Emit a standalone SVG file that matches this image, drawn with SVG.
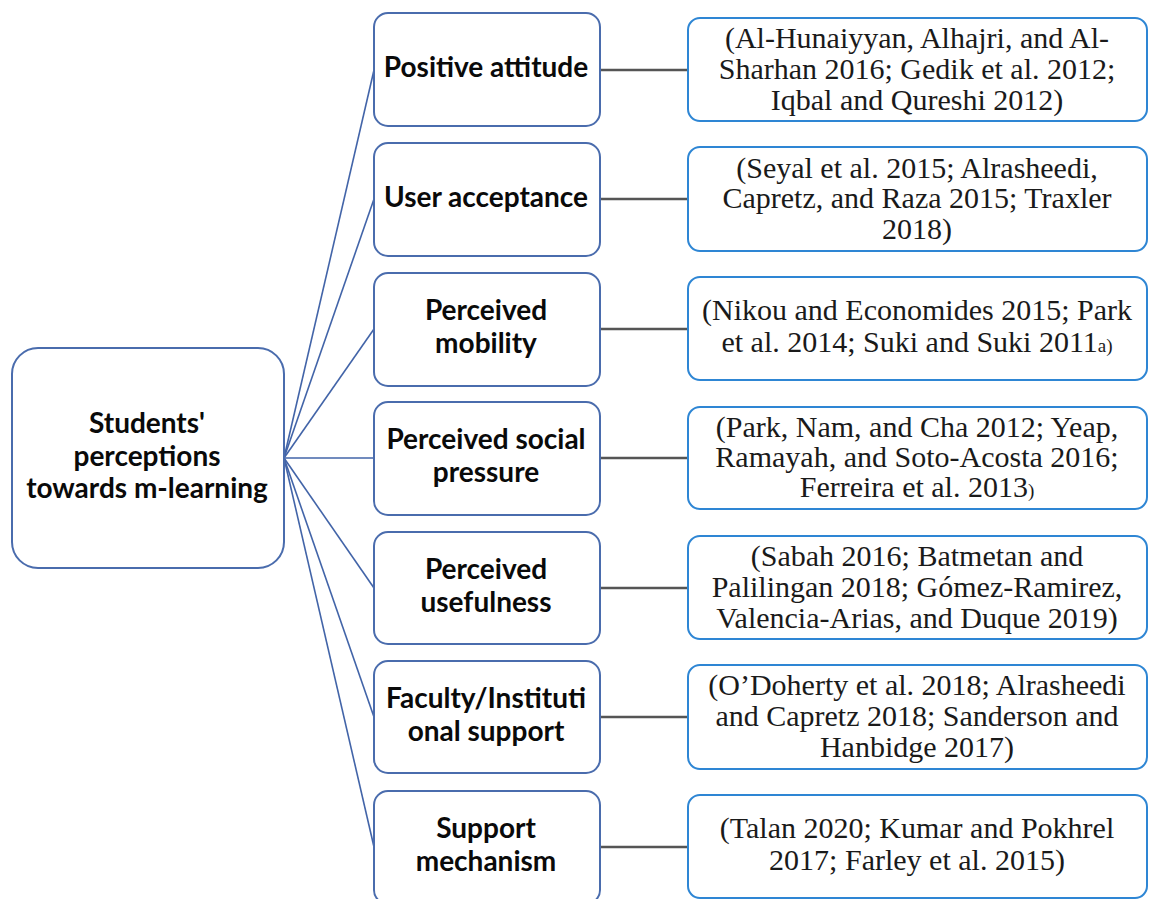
<svg xmlns="http://www.w3.org/2000/svg" width="1149" height="899" viewBox="0 0 1149 899">
  <style>
    .root { fill: #ffffff; stroke: #4a6cad; stroke-width: 2; }
    .factor { fill: #ffffff; stroke: #4a6cad; stroke-width: 2; }
    .refs { fill: #ffffff; stroke: #2e86d4; stroke-width: 2; }
    .fan { stroke: #4264a8; stroke-width: 1.6; fill: none; }
    .link { stroke: #555555; stroke-width: 2.5; fill: none; }
    .bold { font-family: Lato, "Open Sans", sans-serif; font-weight: 700; font-size: 28px; fill: #0a0a0a; text-anchor: middle; }
    .cite { font-family: "Liberation Serif", "Times New Roman", serif; font-size: 30px; fill: #1a1a1a; text-anchor: middle; }
    .small { font-size: 19px; }
  </style>

  <!-- connectors -->
  <g id="connectors">
    <line class="fan" x1="284" y1="458" x2="374" y2="70"/>
    <line class="fan" x1="284" y1="458" x2="374" y2="199"/>
    <line class="fan" x1="284" y1="458" x2="374" y2="329"/>
    <line class="fan" x1="284" y1="458" x2="374" y2="458"/>
    <line class="fan" x1="284" y1="458" x2="374" y2="588"/>
    <line class="fan" x1="284" y1="458" x2="374" y2="717"/>
    <line class="fan" x1="284" y1="458" x2="374" y2="847"/>
    <line class="link" x1="600" y1="70" x2="688" y2="70"/>
    <line class="link" x1="600" y1="199" x2="688" y2="199"/>
    <line class="link" x1="600" y1="329" x2="688" y2="329"/>
    <line class="link" x1="600" y1="458" x2="688" y2="458"/>
    <line class="link" x1="600" y1="588" x2="688" y2="588"/>
    <line class="link" x1="600" y1="717" x2="688" y2="717"/>
    <line class="link" x1="600" y1="847" x2="688" y2="847"/>
  </g>

  <!-- central node -->
  <g id="node-root">
    <rect class="root" x="12" y="348" width="272" height="220" rx="26"/>
    <text class="bold" x="147" y="433">Students'</text>
    <text class="bold" x="147" y="466">perceptions</text>
    <text class="bold" x="147" y="498">towards m-learning</text>
  </g>

  <!-- factor nodes -->
  <g id="node-positive-attitude">
    <rect class="factor" x="374" y="13" width="226" height="113" rx="14"/>
    <text class="bold" x="486" y="77">Positive attitude</text>
  </g>
  <g id="node-user-acceptance">
    <rect class="factor" x="374" y="143" width="226" height="113" rx="14"/>
    <text class="bold" x="486" y="207">User acceptance</text>
  </g>
  <g id="node-perceived-mobility">
    <rect class="factor" x="374" y="273" width="226" height="113" rx="14"/>
    <text class="bold" x="486" y="320">Perceived</text>
    <text class="bold" x="486" y="353">mobility</text>
  </g>
  <g id="node-social-pressure">
    <rect class="factor" x="374" y="402" width="226" height="113" rx="14"/>
    <text class="bold" x="486" y="449">Perceived social</text>
    <text class="bold" x="486" y="482">pressure</text>
  </g>
  <g id="node-perceived-usefulness">
    <rect class="factor" x="374" y="532" width="226" height="112" rx="14"/>
    <text class="bold" x="486" y="579">Perceived</text>
    <text class="bold" x="486" y="612">usefulness</text>
  </g>
  <g id="node-institutional-support">
    <rect class="factor" x="374" y="661" width="226" height="112" rx="14"/>
    <text class="bold" x="486" y="708">Faculty/Instituti</text>
    <text class="bold" x="486" y="741">onal support</text>
  </g>
  <g id="node-support-mechanism">
    <rect class="factor" x="374" y="791" width="226" height="113" rx="14"/>
    <text class="bold" x="486" y="838">Support</text>
    <text class="bold" x="486" y="871">mechanism</text>
  </g>

  <!-- reference nodes -->
  <g id="refs-positive-attitude">
    <rect class="refs" x="688" y="18" width="459" height="103" rx="12"/>
    <text class="cite" x="917" y="48">(Al-Hunaiyyan, Alhajri, and Al-</text>
    <text class="cite" x="917" y="79">Sharhan 2016; Gedik et al. 2012;</text>
    <text class="cite" x="917" y="110">Iqbal and Qureshi 2012)</text>
  </g>
  <g id="refs-user-acceptance">
    <rect class="refs" x="688" y="147" width="459" height="104" rx="12"/>
    <text class="cite" x="917" y="178">(Seyal et al. 2015; Alrasheedi,</text>
    <text class="cite" x="917" y="208">Capretz, and Raza 2015; Traxler</text>
    <text class="cite" x="917" y="239">2018)</text>
  </g>
  <g id="refs-perceived-mobility">
    <rect class="refs" x="688" y="277" width="459" height="103" rx="12"/>
    <text class="cite" x="917" y="320">(Nikou and Economides 2015; Park</text>
    <text class="cite" x="917" y="352">et al. 2014; Suki and Suki 2011<tspan class="small">a)</tspan></text>
  </g>
  <g id="refs-social-pressure">
    <rect class="refs" x="688" y="407" width="459" height="102" rx="12"/>
    <text class="cite" x="917" y="437">(Park, Nam, and Cha 2012; Yeap,</text>
    <text class="cite" x="917" y="467">Ramayah, and Soto-Acosta 2016;</text>
    <text class="cite" x="917" y="497">Ferreira et al. 2013<tspan class="small">)</tspan></text>
  </g>
  <g id="refs-perceived-usefulness">
    <rect class="refs" x="688" y="536" width="459" height="103" rx="12"/>
    <text class="cite" x="917" y="566">(Sabah 2016; Batmetan and</text>
    <text class="cite" x="917" y="597">Palilingan 2018; Gómez-Ramirez,</text>
    <text class="cite" x="917" y="628">Valencia-Arias, and Duque 2019)</text>
  </g>
  <g id="refs-institutional-support">
    <rect class="refs" x="688" y="665" width="459" height="104" rx="12"/>
    <text class="cite" x="917" y="695">(O’Doherty et al. 2018; Alrasheedi</text>
    <text class="cite" x="917" y="726">and Capretz 2018; Sanderson and</text>
    <text class="cite" x="917" y="757">Hanbidge 2017)</text>
  </g>
  <g id="refs-support-mechanism">
    <rect class="refs" x="688" y="795" width="459" height="103" rx="12"/>
    <text class="cite" x="917" y="838">(Talan 2020; Kumar and Pokhrel</text>
    <text class="cite" x="917" y="870">2017; Farley et al. 2015)</text>
  </g>
</svg>
